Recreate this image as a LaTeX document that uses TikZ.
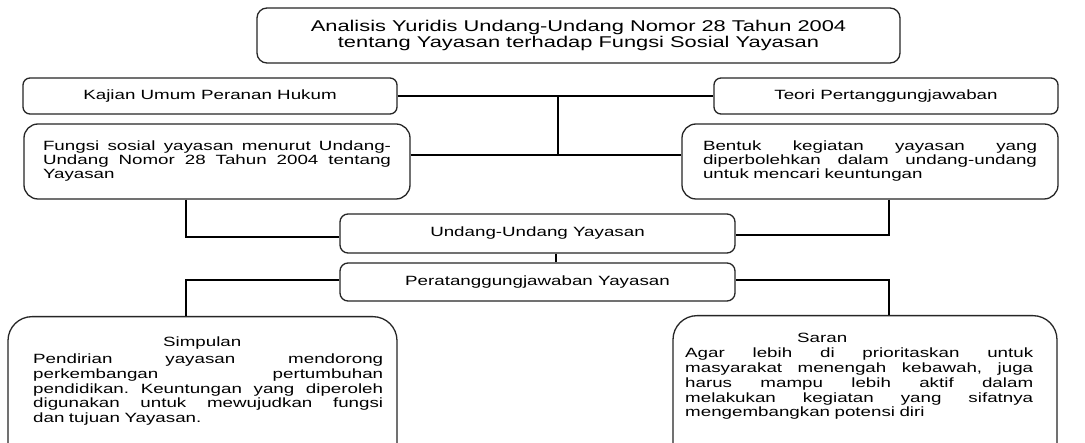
\documentclass[tikz,border=0pt]{standalone}
\usepackage{fontspec}
\setmainfont{Liberation Sans}[FakeStretch=1.4]
\frenchspacing
\newcommand{\jl}[2]{{\spaceskip=0pt\xspaceskip=0pt\makebox[#1][s]{#2}}}
\begin{document}
\begin{tikzpicture}[x=1pt,y=-1pt,
  box/.style={draw=black!85, line width=1.3pt, fill=white, inner sep=0pt,
    font=\fontsize{13.4}{14.5}\selectfont},
  txt/.style={inner sep=0pt, align=left, font=\fontsize{13.4}{14.75}\selectfont},
  conn/.style={line width=2.7pt, draw=black}]
\clip (0,0) rectangle (1085,443);
\fill[white] (0,0) rectangle (1085,443);

% coordinates of connector bends
\coordinate (j1) at (558,96);
\coordinate (j2) at (558,155);
\coordinate (kL) at (186,237);
\coordinate (kR) at (889,235);
\coordinate (kM) at (556,258);
\coordinate (kP) at (186,280);

% boxes
\node[box, rounded corners=10pt, minimum width=643pt, minimum height=55pt, align=center,
  font=\fontsize{15.6}{16.7}\selectfont] (top) at (578.5,35.5)
  {Analisis Yuridis Undang-Undang Nomor 28 Tahun 2004\\tentang Yayasan terhadap Fungsi Sosial Yayasan};
\node[box, rounded corners=7pt, minimum width=374pt, minimum height=36pt] (kaj) at (210,96) {Kajian Umum Peranan Hukum};
\node[box, rounded corners=7pt, minimum width=344pt, minimum height=36pt] (teo) at (886,96) {Teori Pertanggungjawaban};
\node[box, rounded corners=14pt, minimum width=386pt, minimum height=75pt, text width=348pt, align=left,
  font=\fontsize{13.4}{14}\selectfont] (fung) at (217,161.5)
  {\jl{348pt}{Fungsi sosial yayasan menurut Undang-}\\\jl{348pt}{Undang Nomor 28 Tahun 2004 tentang}\\Yayasan};
\node[box, rounded corners=14pt, minimum width=376pt, minimum height=75pt, text width=334pt, align=left,
  font=\fontsize{13.4}{14}\selectfont] (bent) at (870,161.5)
  {\jl{334pt}{Bentuk kegiatan yayasan yang}\\\jl{334pt}{diperbolehkan dalam undang-undang}\\untuk mencari keuntungan};
\node[box, rounded corners=8pt, minimum width=395pt, minimum height=39pt] (uu) at (537.5,233.5) {Undang-Undang Yayasan};
\node[box, rounded corners=8pt, minimum width=395pt, minimum height=38pt] (perat) at (537.5,282) {Peratanggungjawaban Yayasan};
\node[box, rounded corners=24pt, minimum width=389pt, minimum height=160pt, anchor=north] (simp) at (202.5,316) {};
\node[box, rounded corners=24pt, minimum width=384pt, minimum height=160pt, anchor=north] (saran) at (865,315) {};

% connectors
\draw[conn] (kaj.east) -- (teo.west);
\draw[conn] (j1) -- (j2);
\draw[conn] (fung.east |- j2) -- (bent.west |- j2);
\draw[conn] (fung.south -| kL) |- (uu.west |- kL);
\draw[conn] (bent.south -| kR) |- (uu.east |- kR);
\draw[conn] (uu.south -| kM) -- (perat.north -| kM);
\draw[conn] (perat.west |- kP) -| (simp.north -| kL);
\draw[conn] (perat.east |- kP) -| (saran.north -| kR);

% texts of the bottom boxes
\node[txt, anchor=north west, text width=350pt] (simpT) at (33,337)
  {\makebox[338pt][c]{Simpulan}\\[2pt]
   \jl{350pt}{Pendirian yayasan mendorong}\\
   \jl{350pt}{perkembangan pertumbuhan}\\
   \jl{350pt}{pendidikan. Keuntungan yang diperoleh}\\
   \jl{350pt}{digunakan untuk mewujudkan fungsi}\\
   dan tujuan Yayasan.};
\node[txt, anchor=north west, text width=348pt] (saranT) at (685,332.5)
  {\makebox[274pt][c]{Saran}\\[1pt]
   \jl{348pt}{Agar lebih di prioritaskan untuk}\\
   \jl{348pt}{masyarakat menengah kebawah, juga}\\
   \jl{348pt}{harus mampu lebih aktif dalam}\\
   \jl{348pt}{melakukan kegiatan yang sifatnya}\\
   mengembangkan potensi diri};
\end{tikzpicture}
\end{document}
